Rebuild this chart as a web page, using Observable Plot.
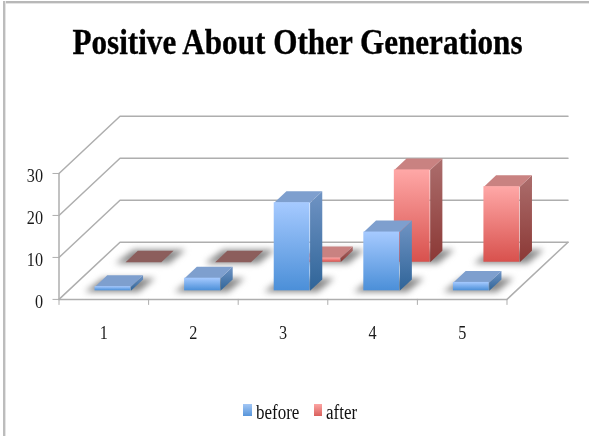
<!DOCTYPE html>
<html>
<head>
<meta charset="utf-8">
<script src="https://cdn.jsdelivr.net/npm/d3@7"></script>
<script src="https://cdn.jsdelivr.net/npm/@observablehq/plot@0.6"></script>
<style>
  html,body{margin:0;padding:0;background:#fff;}
  #page{position:relative;width:589px;height:436px;overflow:hidden;font-family:"Liberation Serif",serif;filter:blur(.35px);}
  #frameT{position:absolute;left:3px;top:1px;right:-5px;height:2px;background:#b8b8b8;border-bottom:1px solid #e4e4e4;}
  #frameL{position:absolute;left:3px;top:1px;bottom:-5px;width:2px;background:#bcbcbc;border-right:1px solid #e4e4e4;}
  #title{position:absolute;left:0;top:0;width:595px;height:100px;text-align:center;margin:0;font-weight:bold;font-size:36px;line-height:85px;color:#000;-webkit-text-stroke:.35px #000;transform:scaleX(.865);transform-origin:297.5px 0;white-space:nowrap;}
  #chart{position:absolute;left:0;top:100px;}
  #legend{position:absolute;left:0;top:0;width:589px;height:436px;pointer-events:none;}
  .sw{position:absolute;top:404px;width:8.5px;height:12px;}
  .lb{position:absolute;top:401px;font-size:20px;line-height:23px;color:#111;transform:scaleX(.85);transform-origin:0 0;white-space:nowrap;}
</style>
</head>
<body>
<div id="page">
  <div id="frameT"></div><div id="frameL"></div>
  <h1 id="title">Positive About Other Generations</h1>
  <div id="chart"></div>
  <div id="legend">
    <div class="sw" style="left:243px;background:linear-gradient(#a3c7f5,#5795da)"></div>
    <div class="lb" style="left:256px">before</div>
    <div class="sw" style="left:313.5px;background:linear-gradient(#fca5a3,#d9605c)"></div>
    <div class="lb" style="left:325.5px">after</div>
  </div>
</div>
<script>
const categories = ["1", "2", "3", "4", "5"];
const before = [1, 3, 21, 14, 2];
const after = [0, 0, 1, 22, 18];
const valueTicks = [0, 10, 20, 30];

// Oblique projection of (category position, value, depth 0..1) into the x / y scale domains
const shearX = 0.681, shearY = 13.62;
const px = (c, z) => c + z * shearX;
const py = (v, z) => v + z * shearY;
const pt = (id, c, v, z) => ({id, x: px(c, z), y: py(v, z)});

const barW = 0.4, gapW = 0.3;       // bar and side gap, in category widths
const barD = 0.2;                   // bar depth, in wall depths
const bars = (values, z0, name) => values.map((v, i) => ({
  name: name + i, v, c0: i + gapW, c1: i + gapW + barW, z0, z1: z0 + barD
}));
const afterBars = bars(after, 0.65, "a");
const beforeBars = bars(before, 0.15, "b");

const poly = (list, f) => list.flatMap(b => f(b));
const topFace = b => [pt(b.name,b.c0,b.v,b.z0),pt(b.name,b.c1,b.v,b.z0),pt(b.name,b.c1,b.v,b.z1),pt(b.name,b.c0,b.v,b.z1)];
const sideFace = b => [pt(b.name,b.c1,0,b.z0),pt(b.name,b.c1,b.v,b.z0),pt(b.name,b.c1,b.v,b.z1),pt(b.name,b.c1,0,b.z1)];
const shadowFace = b => [
  pt(b.name,b.c0-0.1,0,b.z0-0.02),pt(b.name,b.c1+0.1,0,b.z0-0.02),
  pt(b.name,b.c1+0.12,0,b.z1+0.02),pt(b.name,b.c0-0.06,0,b.z1+0.02)
];
const frontRect = b => ({x1: px(b.c0,b.z0), x2: px(b.c1,b.z0), y1: py(0,b.z0), y2: py(b.v,b.z0)});

const nonZero = l => l.filter(b => b.v > 0);
const zero = l => l.filter(b => b.v === 0);

const walls = [
  ...valueTicks.flatMap(v => [pt("g"+v,0,v,0),pt("g"+v,0,v,1),pt("g"+v,5,v,1)]),
  pt("floor",0,0,0),pt("floor",5,0,0),pt("floor",5,0,1),
  pt("axis",0,0,0),pt("axis",0,30,0)
];

const lineOpts = {x:"x", y:"y", z:"id", stroke:"none"};
const faces = (list, topCol, sideGrad, frontGrad) => [
  Plot.line(poly(nonZero(list), sideFace), {...lineOpts, fill:sideGrad}),
  Plot.line(poly(nonZero(list), topFace), {...lineOpts, fill:topCol}),
  Plot.line(poly(zero(list), topFace), {...lineOpts, fill:"#8c5e5c"}),
  Plot.rect(nonZero(list).map(frontRect), {x1:"x1", x2:"x2", y1:"y1", y2:"y2", fill:frontGrad})
];
const grad = (id, a, b) => `<linearGradient id="${id}" x1="0" y1="0" x2="0" y2="1"><stop offset="0" stop-color="${a}"/><stop offset="1" stop-color="${b}"/></linearGradient>`;

const chart = Plot.plot({
  width: 589, height: 245,
  marginLeft: 58.5, marginRight: 21.5, marginTop: 15.8, marginBottom: 46.1,
  style: {background:"transparent", fontFamily:'"Liberation Serif",serif', overflow:"visible"},
  x: {domain:[0, 5 + shearX], axis:null},
  y: {domain:[0, 30 + shearY], axis:null},
  marks: [
    () => {
      const s = d3.create("svg:defs");
      s.html(grad("bf","#a6caff","#4b8fd8")+grad("bs","#7094c4","#2f6498")+grad("af","#ffa8a7","#d8514d")+grad("as","#ac6e6d","#8b3835"));
      return s.node();
    },
    Plot.line(walls, {...lineOpts, stroke:"#aeaeae", strokeWidth:1.5, fill:"none"}),
    Plot.axisY({ticks:valueTicks, anchor:"left", tickSize:6, tickFormat:()=>"", label:null, stroke:"#aeaeae"}),
    Plot.axisX({ticks:[0,1,2,3,4,5], anchor:"bottom", tickSize:6, tickFormat:()=>"", label:null, stroke:"#aeaeae"}),
    Plot.text(valueTicks, {x:0, y:d=>d, text:d=>String(d), dx:-16, dy:2.5, textAnchor:"end", fontSize:19.5, fill:"#1a1a1a"}),
    Plot.text(categories, {x:(d,i)=>i+0.5, y:0, text:d=>d, dy:33.5, fontSize:19.5, fill:"#1a1a1a"}),
    Plot.line(poly([...afterBars,...beforeBars], shadowFace), {...lineOpts, fill:"#8a8a8a", imageFilter:"blur(3px)"}),
    ...faces(afterBars, "#c98281", "url(#as)", "url(#af)"),
    ...faces(beforeBars, "#7e9fce", "url(#bs)", "url(#bf)")
  ]
});
// The reference face is condensed: narrow the tick digits to its width
d3.select(chart).selectAll('g[aria-label="text"] text').each(function() {
  d3.select(this).attr("textLength", this.textContent.length * 8.1).attr("lengthAdjust", "spacingAndGlyphs");
});
document.getElementById("chart").appendChild(chart);
</script>
</body>
</html>
